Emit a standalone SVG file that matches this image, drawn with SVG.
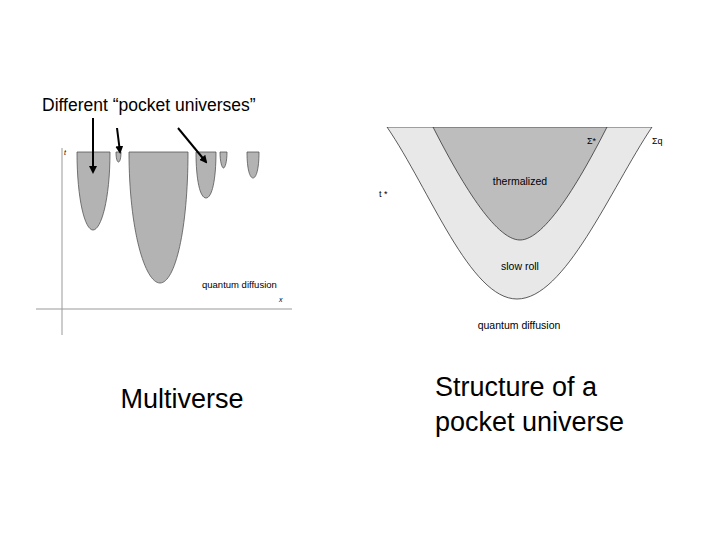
<svg xmlns="http://www.w3.org/2000/svg" width="720" height="540" viewBox="0 0 720 540">
<style>
.p{fill:#b3b3b3;stroke:#555;stroke-width:0.8}
.ax{stroke:#999;stroke-width:1;fill:none}
.s{font-family:"Liberation Sans",Arial,sans-serif;fill:#000}
</style>
<defs><marker id="ah" markerWidth="8" markerHeight="8" refX="6" refY="4" orient="auto" markerUnits="userSpaceOnUse"><path d="M0,0 L8,4 L0,8 z" fill="#000"/></marker></defs>
<rect width="720" height="540" fill="#fff"/>
<g id="left">
<path class="ax" d="M62,148 V335 M36,309 H292"/>
<path class="p" d="M77,152 C77,200 85,230 93,230 C101,230 110,200 110,152 Z"/>
<path class="p" d="M116,152 C116,158 117,162 118.5,162 C120,162 121,158 121,152 Z"/>
<path class="p" d="M129,152 C129,230 145,283 160,283 C175,283 188,230 188,152 Z"/>
<path class="p" d="M196,152 C196,180 200,198 206,198 C212,198 216,180 216,152 Z"/>
<path class="p" d="M220,152 C220,162 222,168 223.5,168 C225,168 227,162 227,152 Z"/>
<path class="p" d="M247,152 C247,170 250,178 253,178 C256,178 259,170 259,152 Z"/>
<text class="s" x="64" y="155" font-size="7" font-style="italic" fill="#888">t</text>
<text class="s" x="279" y="302" font-size="7" font-style="italic" fill="#888">x</text>
<text class="s" x="202" y="288" font-size="9.5">quantum diffusion</text>
<text class="s" x="42" y="111" font-size="17.5">Different “pocket universes”</text>
</g>
<g id="connectors" stroke="#000" stroke-width="2">
<line x1="93" y1="118" x2="93" y2="172" marker-end="url(#ah)"/>
<line x1="117" y1="128" x2="120" y2="152" marker-end="url(#ah)"/>
<line x1="178" y1="128" x2="206" y2="162" marker-end="url(#ah)"/>
</g>
<g id="right">
<path d="M387,127 C430,190 470,299 517,299 C565,299 610,190 652,127 Z" fill="#e8e8e8" stroke="#333" stroke-width="0.8"/>
<path d="M433,127 C460,180 495,240 520,240 C545,240 580,180 607,127 Z" fill="#bdbdbd" stroke="#333" stroke-width="0.8"/>
<rect x="380" y="120" width="290" height="7" fill="#fff"/>
<text class="s" x="520" y="185" font-size="10.5" text-anchor="middle" fill="#222">thermalized</text>
<text class="s" x="520" y="270" font-size="10.5" text-anchor="middle" fill="#222">slow roll</text>
<text class="s" x="519" y="329" font-size="10.5" text-anchor="middle" fill="#222">quantum diffusion</text>
<text class="s" x="379" y="197" font-size="9">t *</text>
<text class="s" x="587" y="144" font-size="9">Σ*</text>
<text class="s" x="652" y="144" font-size="9">Σq</text>
</g>
<text class="s" x="182" y="408" font-size="27" text-anchor="middle">Multiverse</text>
<text class="s" x="435" y="396" font-size="27">Structure of a</text>
<text class="s" x="435" y="431" font-size="27">pocket universe</text>
</svg>
